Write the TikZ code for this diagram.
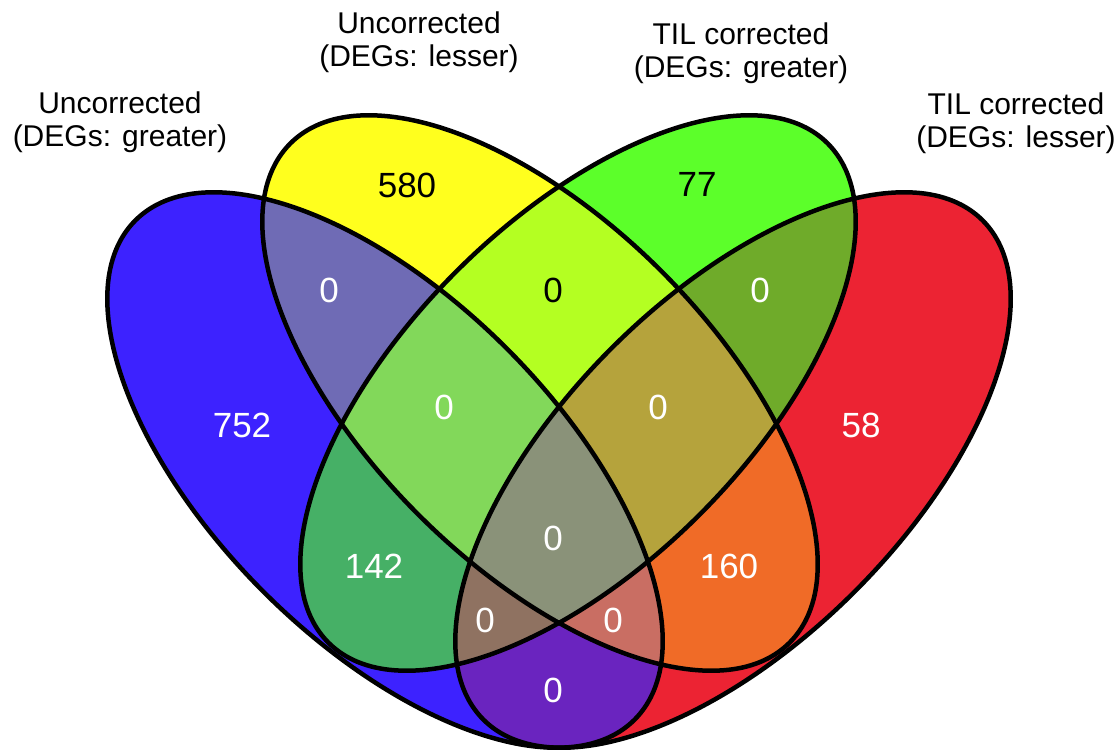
\documentclass[tikz,border=0pt]{standalone}
\usepackage{fontspec}
\setmainfont{Liberation Sans}

% set colours
\definecolor{cA}{HTML}{3D22FF}
\definecolor{cB}{HTML}{FFFF1E}
\definecolor{cC}{HTML}{5CFF2A}
\definecolor{cD}{HTML}{EC2333}
\definecolor{cAB}{HTML}{6F6BB5}
\definecolor{cAC}{HTML}{46B066}
\definecolor{cAD}{HTML}{6A24BF}
\definecolor{cBC}{HTML}{B4FF22}
\definecolor{cBD}{HTML}{F06B27}
\definecolor{cCD}{HTML}{6FAB2A}
\definecolor{cABC}{HTML}{82D85A}
\definecolor{cABD}{HTML}{C96E63}
\definecolor{cACD}{HTML}{8F7261}
\definecolor{cBCD}{HTML}{B5A33C}
\definecolor{cABCD}{HTML}{8A9279}

% the four sets
\newcommand{\setA}{[rotate around={-45:(385,470)}] (385,470) ellipse (353pt and 172pt)}
\newcommand{\setB}{[rotate around={-45:(540,393)}] (540,393) ellipse (353pt and 172pt)}
\newcommand{\setC}{[rotate around={45:(578,393)}] (578,393) ellipse (353pt and 172pt)}
\newcommand{\setD}{[rotate around={45:(733,470)}] (733,470) ellipse (353pt and 172pt)}

\tikzset{
  outline/.style={draw=black, line width=4.5pt},
  count/.style={inner sep=0pt, text=white, font=\fontsize{35}{40}\selectfont},
  countdark/.style={count, text=black},
  setname/.style={inner sep=0pt, align=center, font=\fontsize{30}{33}\selectfont}
}

\begin{document}
\begin{tikzpicture}[x=1pt,y=-1pt]
\useasboundingbox (0,0) rectangle (1115,751);

% single sets
\fill[cA] \setA;
\fill[cB] \setB;
\fill[cC] \setC;
\fill[cD] \setD;

% two sets
\begin{scope} \clip \setA; \fill[cAB] \setB; \end{scope}
\begin{scope} \clip \setA; \fill[cAC] \setC; \end{scope}
\begin{scope} \clip \setA; \fill[cAD] \setD; \end{scope}
\begin{scope} \clip \setB; \fill[cBC] \setC; \end{scope}
\begin{scope} \clip \setB; \fill[cBD] \setD; \end{scope}
\begin{scope} \clip \setC; \fill[cCD] \setD; \end{scope}

% three sets
\begin{scope} \clip \setA; \clip \setB; \fill[cABC] \setC; \end{scope}
\begin{scope} \clip \setA; \clip \setB; \fill[cABD] \setD; \end{scope}
\begin{scope} \clip \setA; \clip \setC; \fill[cACD] \setD; \end{scope}
\begin{scope} \clip \setB; \clip \setC; \fill[cBCD] \setD; \end{scope}

% all four
\begin{scope} \clip \setA; \clip \setB; \clip \setC; \fill[cABCD] \setD; \end{scope}

\draw[outline] \setA;
\draw[outline] \setB;
\draw[outline] \setC;
\draw[outline] \setD;

% counts
\node[countdark] (nB) at (407,185) {580};
\node[countdark] (nC) at (697,184) {77};
\node[count] (nAB) at (329,290) {0};
\node[countdark] (nBC) at (553,290) {0};
\node[count] (nCD) at (760,290) {0};
\node[count] (nA) at (242,425) {752};
\node[count] (nABC) at (444,407) {0};
\node[count] (nBCD) at (658,407) {0};
\node[count] (nD) at (861,425) {58};
\node[count] (nABCD) at (553,538) {0};
\node[count] (nAC) at (374,566) {142};
\node[count] (nBD) at (729,566) {160};
\node[count] (nACD) at (485,620) {0};
\node[count] (nABD) at (613,620) {0};
\node[count] (nAD) at (553,690) {0};

% set names
\node[setname] (tA) at (120,122) {Uncorrected\\(DEGs: greater)};
\node[setname] (tB) at (419,42) {Uncorrected\\(DEGs: lesser)};
\node[setname] (tC) at (741,53) {TIL corrected\\(DEGs: greater)};
\node[setname] (tD) at (1016,123) {TIL corrected\\(DEGs: lesser)};
\end{tikzpicture}
\end{document}
